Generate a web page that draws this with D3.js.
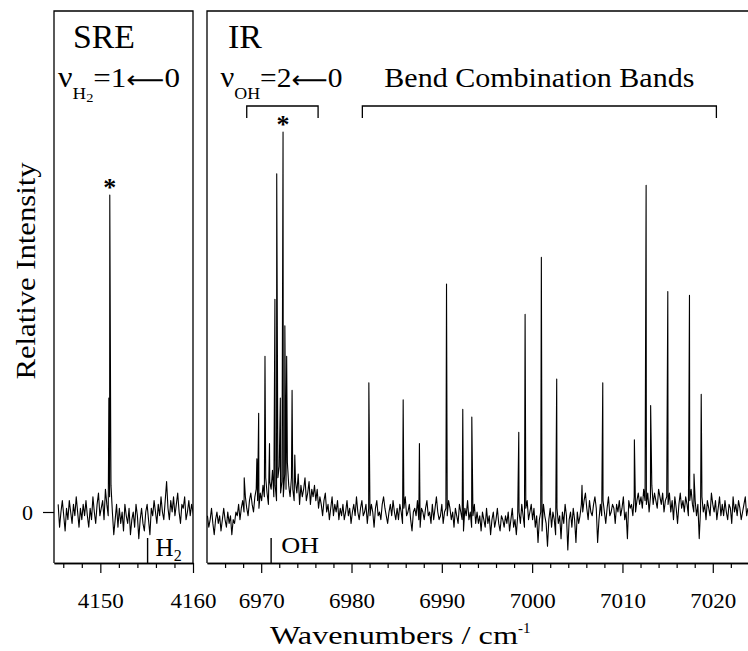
<!DOCTYPE html>
<html><head><meta charset="utf-8">
<script src="https://cdn.jsdelivr.net/npm/d3@7"></script>
<style>
html,body{margin:0;padding:0;background:#fff;}
svg{display:block;}
text{font-family:"Liberation Serif","Times New Roman",Times,serif;fill:#000;}
</style>
</head><body>
<svg id="chart" width="748" height="651"></svg>
<script>
// ---------------- DATA ----------------
// SRE panel (H2 stretch): baseline samples, units of 0.01 relative intensity
const sreStart = 4145.45, sreStep = 0.15;
const sreNoise = [
  2,-4,0,3,-1,-5,1,-2,3,0,-3,2,-1,4,0,-4,1,-2,2,-1,
  3,-1,-4,1,-2,4,0,-3,2,5,-1,1,3,-2,6,2,-1,4,7,0,
  -6,-2,2,-4,1,-3,0,-5,2,-1,-3,1,-6,-2,0,-4,2,-1,-7,-2,
  1,-3,-5,0,2,-2,-6,1,-1,3,0,-3,2,-1,4,0,-2,3,8,1,
  -2,3,0,4,-1,2,5,0,-3,2,1,4,-2,0,3,-1,2,0,-2,1];
const srePeakWn = [4150.92, 4151.02, 4151.12];
const srePeakI  = [0.30, 0.834, 0.20];

// IR panel: baseline samples, units of 0.01 relative intensity
const irStart = 6964.05, irStep = 0.15;
const irNoise = [
  -1,-4,-2,1,-3,-6,-2,0,-3,-1,-5,-2,1,-2,-4,0,-3,-1,-6,-2,
  -3,0,-1,2,-2,1,3,0,4,1,-1,3,5,2,0,4,6,3,1,5,
  3,7,4,9,5,2,8,6,11,4,7,3,9,12,5,8,4,10,6,13,
  7,4,9,6,3,8,5,10,2,7,4,6,9,3,5,8,2,6,4,7,
  3,6,1,4,2,-1,3,5,0,2,-2,1,4,-1,2,0,3,-2,1,-1,
  2,-2,0,3,-1,1,-3,0,2,-1,4,0,-2,1,3,-1,0,2,-3,1,
  -1,2,0,-4,1,3,-1,0,-2,2,4,1,-1,-3,0,2,-1,3,0,-2,
  1,-2,2,0,-3,1,4,-1,0,2,-2,-5,0,1,-1,3,-2,-4,1,0,
  -2,1,3,-1,0,-3,2,-2,1,4,0,-2,-1,2,-3,0,1,-1,3,1,
  -2,0,-4,1,-1,-3,2,0,-2,-5,1,-1,3,-2,0,-4,-1,2,-3,0,
  -3,-1,-5,0,-2,-4,1,-3,-1,-6,-2,0,-4,-2,1,-3,-5,-1,-2,-4,
  -1,-3,0,-5,-2,1,-4,-2,-6,-1,0,-3,2,-1,-4,1,3,-2,0,2,
  -2,1,-4,-1,-8,-2,0,-5,2,-1,-3,-9,-2,1,-4,0,-2,-6,1,-3,
  -1,-7,0,-3,2,-1,-10,-2,0,-4,1,-2,-8,0,-3,-1,2,0,3,5,
  1,-2,3,0,-1,2,4,1,-8,-2,2,-1,3,0,-3,1,4,-1,0,2,
  1,-3,2,0,3,-1,1,4,-2,0,-7,3,1,2,-1,4,0,3,5,2,
  4,1,6,3,2,5,0,4,7,2,5,3,1,6,4,2,5,0,3,4,
  2,5,0,3,-2,4,1,-3,2,5,1,3,0,4,2,-1,3,6,2,0,
  3,-1,2,-7,1,4,0,2,-2,3,1,-1,5,2,0,3,-2,1,4,-1,
  2,-1,3,0,-2,2,1,-3,4,0,2,-1,3,1,-2,0,2,4,-1,1];
const irPeakWn = [6968.12, 6969.52, 6969.72, 6970.42, 6970.92, 6971.52, 6971.72, 6972.12, 6972.42, 6972.62, 6972.82, 6973.42, 6973.72,
  6981.92, 6985.72, 6987.52, 6990.52, 6992.32, 6993.32, 6998.52, 6999.22, 7001.02, 7002.72, 7005.52,
  7007.82, 7011.32, 7012.62, 7013.12, 7015.02, 7017.42, 7017.92, 7018.72];
const irPeakI = [0.09, 0.14, 0.26, 0.41, 0.18, 0.56, 0.89, 0.30, 1.00, 0.49, 0.41, 0.32, 0.15,
  0.34, 0.295, 0.18, 0.60, 0.27, 0.25, 0.21, 0.52, 0.67, 0.35, 0.07,
  0.34, 0.19, 0.86, 0.28, 0.58, 0.57, 0.10, 0.31];

// ticks
const sreTicksMajor = [4150, 4160];
const sreTicksMinor = [4146, 4148, 4152, 4154, 4156, 4158];
const irTicksMajor = [6970, 6980, 6990, 7000, 7010, 7020];
const irTicksMinor = [6966, 6968, 6972, 6974, 6976, 6978, 6982, 6984, 6986, 6988, 6992, 6994, 6996, 6998,
  7002, 7004, 7006, 7008, 7012, 7014, 7016, 7018, 7022];
const yTicks = [0];

// reference markers, brackets, asterisks
const sreMarkerWn = 4155.1;
const irMarkerWn = 6971.1;
const ohBracket = [6968.4, 6976.3];
const bendBracket = [6981.2, 7020.4];
const sreStarWn = 4151.02, sreStarI = 0.834;
const irStarWn = 6972.42, irStarI = 1.00;

// ---------------- LAYOUT ----------------
const svg = d3.select("#chart");
const yTop = 11, yBot = 563;
const xSre = d3.scaleLinear().domain([4145, 4160]).range([54, 193]);
const xIr = d3.scaleLinear().domain([6964, 7023.9]).range([207, 748]);
const y = d3.scaleLinear().domain([0, 1]).range([512, 132]);

function txt(x, yy, s, size, opts = {}) {
  const t = svg.append("text").attr("x", x).attr("y", yy).attr("font-size", size).text(s);
  if (opts.anchor) t.attr("text-anchor", opts.anchor);
  if (opts.len) t.attr("textLength", opts.len).attr("lengthAdjust", "spacingAndGlyphs");
  if (opts.weight) t.attr("font-weight", opts.weight);
  return t;
}

function tracePoints(start, step, noise, pWn, pI) {
  const pts = noise.map((v, i) => ({ x: start + i * step, v: v / 100 }));
  pWn.forEach((w, i) => pts.push({ x: w, v: pI[i] }));
  pts.sort((a, b) => a.x - b.x);
  return pts;
}

// clip paths
const defs = svg.append("defs");
defs.append("clipPath").attr("id", "clipSre").append("rect")
  .attr("x", 54).attr("y", yTop).attr("width", 193 - 54).attr("height", yBot - yTop);
defs.append("clipPath").attr("id", "clipIr").append("rect")
  .attr("x", 207).attr("y", yTop).attr("width", 748 - 207).attr("height", yBot - yTop);

// traces
const sreLine = d3.line().x(d => xSre(d.x)).y(d => y(d.v));
const irLine = d3.line().x(d => xIr(d.x)).y(d => y(d.v));
svg.append("path").attr("clip-path", "url(#clipSre)")
  .attr("d", sreLine(tracePoints(sreStart, sreStep, sreNoise, srePeakWn, srePeakI)))
  .attr("fill", "none").attr("stroke", "#000").attr("stroke-width", 1.1).attr("stroke-linejoin", "round");
svg.append("path").attr("clip-path", "url(#clipIr)")
  .attr("d", irLine(tracePoints(irStart, irStep, irNoise, irPeakWn, irPeakI)))
  .attr("fill", "none").attr("stroke", "#000").attr("stroke-width", 1.1).attr("stroke-linejoin", "round");

// frames
const frame = svg.append("g").attr("stroke", "#000").attr("stroke-width", 1.3).attr("fill", "none");
frame.append("path").attr("d", `M54,${yBot}V${yTop}H193V${yBot}`);
frame.append("path").attr("d", `M207,${yBot}V${yTop}H748`);

// x axes
function xAxis(scale, major, minor) {
  const gMin = svg.append("g").attr("transform", `translate(0,${yBot})`)
    .call(d3.axisBottom(scale).tickValues(minor).tickSize(5).tickSizeOuter(0).tickFormat(""));
  const gMaj = svg.append("g").attr("transform", `translate(0,${yBot})`)
    .call(d3.axisBottom(scale).tickValues(major).tickSize(10).tickSizeOuter(0).tickPadding(20).tickFormat(d3.format("d")));
  [gMin, gMaj].forEach(g => {
    g.select(".domain").attr("stroke-width", 1.3);
    g.selectAll(".tick line").attr("stroke-width", 1.2);
  });
  gMaj.selectAll(".tick text").attr("font-size", 21)
    .attr("textLength", 46).attr("lengthAdjust", "spacingAndGlyphs").attr("fill", "#000");
}
xAxis(xSre, sreTicksMajor, sreTicksMinor);
xAxis(xIr, irTicksMajor, irTicksMinor);

// y axis
const gy = svg.append("g").attr("transform", "translate(54,0)")
  .call(d3.axisLeft(y).tickValues(yTicks).tickSize(11).tickSizeOuter(0).tickPadding(10).tickFormat(d3.format("d")));
gy.select(".domain").remove();
gy.selectAll(".tick line").attr("stroke-width", 1.2);
gy.selectAll(".tick text").attr("font-size", 22).attr("fill", "#000");

// markers
svg.append("line").attr("x1", xSre(sreMarkerWn)).attr("x2", xSre(sreMarkerWn)).attr("y1", 538).attr("y2", yBot)
  .attr("stroke", "#000").attr("stroke-width", 1.4);
const h2t = svg.append("text").attr("x", xSre(sreMarkerWn) + 8).attr("y", 556).attr("font-size", 25);
h2t.append("tspan").text("H");
h2t.append("tspan").attr("font-size", 16).attr("dy", 5).text("2");
svg.append("line").attr("x1", xIr(irMarkerWn)).attr("x2", xIr(irMarkerWn)).attr("y1", 538).attr("y2", yBot)
  .attr("stroke", "#000").attr("stroke-width", 1.4);
txt(xIr(irMarkerWn) + 10, 553, "OH", 24, { len: 38 });

// asterisks
txt(xSre(sreStarWn), y(sreStarI) + 1, "*", 26, { anchor: "middle", weight: "bold" });
txt(xIr(irStarWn), y(irStarI) + 1, "*", 26, { anchor: "middle", weight: "bold" });

// brackets
function bracket(scale, r) {
  svg.append("path").attr("d", `M${scale(r[0])},118V106H${scale(r[1])}V118`)
    .attr("fill", "none").attr("stroke", "#000").attr("stroke-width", 1.3);
}
bracket(xIr, ohBracket);
bracket(xIr, bendBracket);

// panel titles
txt(73, 48, "SRE", 34, { len: 62 });
txt(228, 48, "IR", 34, { len: 34 });

// nu labels as single texts with tspans
function nuLabel(x0, sub, n, len) {
  const t = svg.append("text").attr("x", x0).attr("y", 87).attr("font-size", 28)
    .attr("textLength", len).attr("lengthAdjust", "spacingAndGlyphs");
  t.append("tspan").attr("font-size", 29).text("\u03BD");
  if (sub === "H2") {
    t.append("tspan").attr("font-size", 17).attr("dy", 12).text("H");
    t.append("tspan").attr("font-size", 13).attr("dy", 3).text("2");
    t.append("tspan").attr("dy", -15).text("=" + n);
  } else {
    t.append("tspan").attr("font-size", 17).attr("dy", 12).text(sub);
    t.append("tspan").attr("dy", -12).text("=" + n);
  }
  t.append("tspan").attr("font-family", "DejaVu Sans").attr("font-size", 24).attr("dy", 1).text("\u27F5");
  t.append("tspan").attr("dy", -1).text("0");
}
nuLabel(58, "H2", "1", 122);
const ohC = (xIr(ohBracket[0]) + xIr(ohBracket[1])) / 2;
nuLabel(ohC - 62, "OH", "2", 122);

const bendC = (xIr(bendBracket[0]) + xIr(bendBracket[1])) / 2;
txt(bendC, 87, "Bend Combination Bands", 28, { anchor: "middle", len: 310 });

// axis titles
const xt = svg.append("text").attr("x", 270).attr("y", 644).attr("font-size", 25);
xt.append("tspan").attr("textLength", 248).attr("lengthAdjust", "spacingAndGlyphs").text("Wavenumbers / cm");
xt.append("tspan").attr("font-size", 15).attr("dy", -11).text("-1");
svg.append("text").attr("transform", "translate(35,271) rotate(-90)").attr("text-anchor", "middle")
  .attr("font-size", 27).attr("textLength", 217).attr("lengthAdjust", "spacingAndGlyphs").text("Relative Intensity");
</script>
</body></html>
